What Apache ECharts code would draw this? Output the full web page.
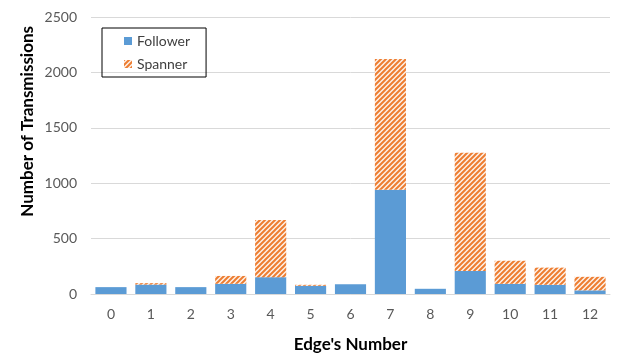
<!DOCTYPE html>
<html>
<head>
<meta charset="utf-8">
<script src="https://cdn.jsdelivr.net/npm/echarts@6/dist/echarts.min.js"></script>
<style>
  html, body { margin: 0; padding: 0; background: #fff; }
  #chart { width: 630px; height: 358px; }
</style>
</head>
<body>
<div id="chart"></div>
<script>
// Edge indices along the x axis
const edges = ['0', '1', '2', '3', '4', '5', '6', '7', '8', '9', '10', '11', '12'];
// Transmissions per edge, split by role
const follower = [62, 85, 62, 92, 152, 74, 87, 940, 47, 208, 92, 83, 33];
const spanner  = [0, 13, 0, 71, 515, 9, 0, 1182, 0, 1066, 208, 155, 122];
// Value axis ticks
const yTicks = [0, 500, 1000, 1500, 2000, 2500];

// Diagonal orange hatch used for the Spanner series
function hatchPattern() {
  const c = document.createElement('canvas');
  const s = 5;
  c.width = s; c.height = s;
  const g = c.getContext('2d');
  g.fillStyle = '#fdf1e8';
  g.fillRect(0, 0, s, s);
  g.strokeStyle = '#ED7D31';
  g.lineWidth = 2;
  g.beginPath();
  g.moveTo(-1, s + 1); g.lineTo(s + 1, -1);
  g.moveTo(-1, 1); g.lineTo(1, -1);
  g.moveTo(s - 1, s + 1); g.lineTo(s + 1, s - 1);
  g.stroke();
  return { image: c, repeat: 'repeat' };
}

const font = 'Lato, "Liberation Sans", sans-serif';
const chart = echarts.init(document.getElementById('chart'));
chart.setOption({
  animation: false,
  textStyle: { fontFamily: font },
  grid: { left: 91, right: 20, top: 17, bottom: 61 },
  legend: {
    orient: 'vertical',
    left: 102, top: 28,
    padding: [6, 16, 6, 22],
    itemGap: 9,
    itemWidth: 8, itemHeight: 8,
    borderColor: '#000', borderWidth: 1,
    textStyle: { fontSize: 14, color: '#404040', fontFamily: font },
    data: [{ name: 'Follower', icon: 'rect' }, { name: 'Spanner', icon: 'rect' }]
  },
  xAxis: {
    type: 'category',
    data: edges,
    axisLine: { lineStyle: { color: '#D9D9D9', width: 1 } },
    axisTick: { show: false },
    axisLabel: { color: '#595959', fontSize: 14, margin: 13 },
    name: "Edge's Number",
    nameLocation: 'middle',
    nameGap: 42,
    nameTextStyle: { fontSize: 17, fontWeight: 'bold', color: '#000' }
  },
  yAxis: {
    type: 'value',
    min: yTicks[0], max: yTicks[yTicks.length - 1], interval: 500,
    axisLine: { show: false },
    axisTick: { show: false },
    splitLine: { lineStyle: { color: '#D9D9D9', width: 1 } },
    axisLabel: { color: '#595959', fontSize: 14, margin: 14, formatter: v => String(v) }
  },
  graphic: [{
    type: 'text',
    left: 19, top: 26,
    rotation: Math.PI / 2,
    style: {
      text: 'Number of Transmissions',
      font: 'bold 17px ' + font,
      fill: '#000'
    }
  }],
  series: [
    {
      name: 'Follower', type: 'bar', stack: 'total',
      data: follower, barCategoryGap: '22%',
      itemStyle: { color: '#5B9BD5' }
    },
    {
      name: 'Spanner', type: 'bar', stack: 'total',
      data: spanner,
      itemStyle: { color: hatchPattern() }
    }
  ]
});
</script>
</body>
</html>
